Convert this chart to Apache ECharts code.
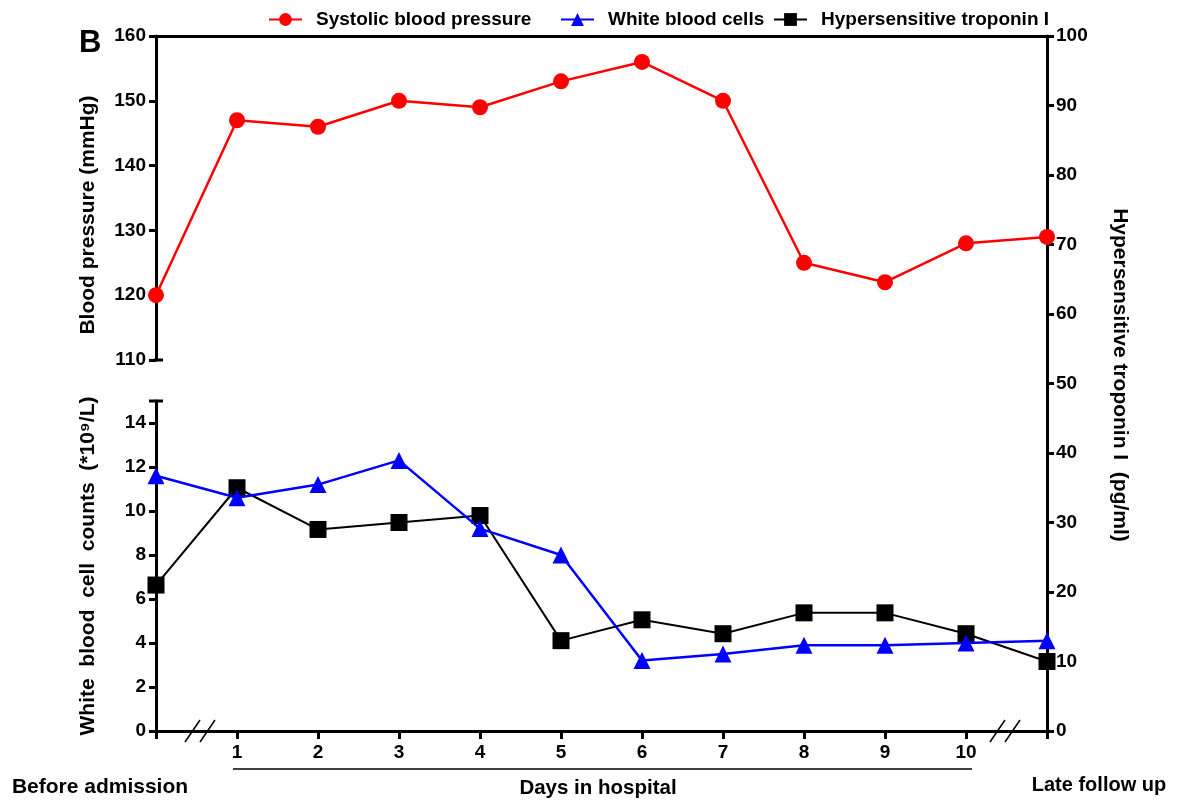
<!DOCTYPE html>
<html>
<head>
<meta charset="utf-8">
<script src="https://cdn.jsdelivr.net/npm/echarts@6/dist/echarts.min.js"></script>
<style>
html,body{margin:0;padding:0;background:#fff;}
#c{width:1186px;height:801px;}
</style>
</head>
<body>
<div id="c"></div>
<script>
var categories = ['Before admission','1','2','3','4','5','6','7','8','9','10','Late follow up'];
var systolicBP = [120,147,146,150,149,153,156,150,125,122,128,129];
var whiteBloodCells = [11.6,10.6,11.2,12.3,9.2,8.0,3.2,3.5,3.9,3.9,4.0,4.1];
var troponinI = [21,35,29,30,31,13,16,14,17,17,14,10];
var bpTicks = {min:110, max:160, interval:10};
var wbcTicks = {min:0, max:15, interval:2};
var tropTicks = {min:0, max:100, interval:10};

var FONT = '"Liberation Sans", Arial, sans-serif';
var chart = echarts.init(document.getElementById('c'));
var L = 156, R = 1186 - 1047;
var lbl = {fontFamily: FONT, fontWeight: 'bold', fontSize: 19, color: '#000'};
var axLine = {show: true, lineStyle: {color: '#000', width: 3}};

function slash(x1, y1, x2, y2) {
  return {type: 'line', shape: {x1: x1, y1: y1, x2: x2, y2: y2}, style: {stroke: '#000', lineWidth: 1.5}, z: 100};
}
function legendAt(name, left) {
  return {
    data: [name], left: left, top: 5, itemWidth: 33, itemHeight: 16,
    textStyle: {fontFamily: FONT, fontWeight: 'bold', fontSize: 19, color: '#000', padding: [0, 0, 0, 9]}
  };
}

var option = {
  backgroundColor: '#fff',
  animation: false,
  legend: [
    legendAt('Systolic blood pressure', 263),
    legendAt('White blood cells', 555),
    legendAt('Hypersensitive troponin I', 768)
  ],
  grid: [
    {left: L, right: R, top: 36, height: 324},
    {left: L, right: R, top: 401, height: 330},
    {left: L, right: R, top: 36, height: 695}
  ],
  xAxis: [
    {type: 'category', gridIndex: 0, data: categories, boundaryGap: false, position: 'top',
     axisLine: axLine, axisTick: {show: false}, axisLabel: {show: false}, splitLine: {show: false}},
    {type: 'category', gridIndex: 1, data: categories, boundaryGap: false, show: false},
    {type: 'category', gridIndex: 2, data: categories, boundaryGap: false, position: 'bottom',
     axisLine: axLine,
     axisTick: {show: true, length: 8, lineStyle: {color: '#000', width: 3}},
     axisLabel: Object.assign({margin: 12, interval: 0, formatter: function (v) { return /^\d+$/.test(v) ? v : ''; }}, lbl),
     splitLine: {show: false}}
  ],
  yAxis: [
    {type: 'value', gridIndex: 0, min: bpTicks.min, max: bpTicks.max, interval: bpTicks.interval, position: 'left',
     axisLine: axLine, axisTick: {show: true, length: 7, lineStyle: {color: '#000', width: 3}},
     axisLabel: Object.assign({margin: 10}, lbl), splitLine: {show: false}},
    {type: 'value', gridIndex: 1, min: wbcTicks.min, max: wbcTicks.max, interval: wbcTicks.interval, position: 'left',
     axisLine: axLine, axisTick: {show: true, length: 7, lineStyle: {color: '#000', width: 3}},
     axisLabel: Object.assign({margin: 10, showMaxLabel: false}, lbl), splitLine: {show: false}},
    {type: 'value', gridIndex: 2, min: tropTicks.min, max: tropTicks.max, interval: tropTicks.interval, position: 'right',
     axisLine: axLine, axisTick: {show: true, length: 7, lineStyle: {color: '#000', width: 3}},
     axisLabel: Object.assign({margin: 9}, lbl), splitLine: {show: false}}
  ],
  series: [
    {name: 'Systolic blood pressure', type: 'line', xAxisIndex: 0, yAxisIndex: 0, data: systolicBP,
     symbol: 'circle', symbolSize: 16, color: '#ff0000',
     lineStyle: {color: '#ff0000', width: 2.5}, itemStyle: {color: '#ff0000'}, z: 3},
    {name: 'Hypersensitive troponin I', type: 'line', xAxisIndex: 2, yAxisIndex: 2, data: troponinI,
     symbol: 'rect', symbolSize: 17, color: '#000',
     lineStyle: {color: '#000', width: 2}, itemStyle: {color: '#000'}, z: 3},
    {name: 'White blood cells', type: 'line', xAxisIndex: 1, yAxisIndex: 1, data: whiteBloodCells,
     symbol: 'triangle', symbolSize: 17, color: '#0000ff',
     lineStyle: {color: '#0000ff', width: 2.5}, itemStyle: {color: '#0000ff'}, z: 4}
  ],
  graphic: [
    {type: 'text', left: 79, top: 28, style: {text: 'B', font: 'bold 31px ' + FONT, fill: '#000'}},
    {type: 'text', x: 88, y: 215, rotation: Math.PI / 2,
     style: {text: 'Blood pressure (mmHg)', font: 'bold 21px ' + FONT, fill: '#000', align: 'center', verticalAlign: 'middle'}},
    {type: 'text', x: 88, y: 566, rotation: Math.PI / 2,
     style: {text: 'White  blood  cell  counts  (*10\u2079/L)', font: 'bold 21px ' + FONT, fill: '#000', align: 'center', verticalAlign: 'middle'}},
    {type: 'text', x: 1120, y: 375, rotation: -Math.PI / 2,
     style: {text: 'Hypersensitive troponin I  (pg/ml)', font: 'bold 21px ' + FONT, fill: '#000', align: 'center', verticalAlign: 'middle'}},
    {type: 'text', x: 100, y: 787, style: {text: 'Before admission', font: 'bold 21px ' + FONT, fill: '#000', align: 'center', verticalAlign: 'middle'}},
    {type: 'text', x: 598, y: 788, style: {text: 'Days in hospital', font: 'bold 20.5px ' + FONT, fill: '#000', align: 'center', verticalAlign: 'middle'}},
    {type: 'text', x: 1099, y: 785, style: {text: 'Late follow up', font: 'bold 20px ' + FONT, fill: '#000', align: 'center', verticalAlign: 'middle'}},
    {type: 'line', shape: {x1: 233, y1: 769, x2: 972, y2: 769}, style: {stroke: '#000', lineWidth: 1.5}},
    slash(185, 742, 200, 720), slash(200, 742, 215, 720),
    slash(990, 742, 1005, 720), slash(1005, 742, 1020, 720),
    {type: 'line', shape: {x1: 154, y1: 360, x2: 163, y2: 360}, style: {stroke: '#000', lineWidth: 3}},
    {type: 'line', shape: {x1: 149, y1: 401, x2: 163, y2: 401}, style: {stroke: '#000', lineWidth: 3}}
  ]
};
chart.setOption(option);
</script>
</body>
</html>
